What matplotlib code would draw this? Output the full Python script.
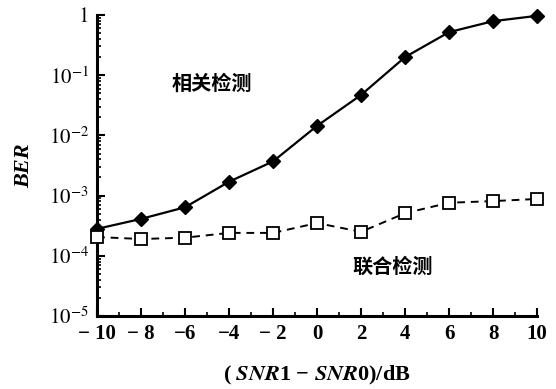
import numpy as np
import matplotlib
matplotlib.use('Agg')
import matplotlib.pyplot as plt
from matplotlib.ticker import FixedLocator, NullFormatter

plt.rcParams['font.family'] = ['Liberation Serif', 'Noto Sans CJK SC']
plt.rcParams['mathtext.fontset'] = 'stix'

snr_diff = [-10, -8, -6, -4, -2, 0, 2, 4, 6, 8, 10]
ber_corr = [2.8e-4, 4.1e-4, 6.4e-4, 1.7e-3, 3.7e-3, 1.44e-2, 4.7e-2, 0.20, 0.52, 0.79, 0.97]
ber_joint = [2.05e-4, 1.9e-4, 2.0e-4, 2.4e-4, 2.4e-4, 3.5e-4, 2.5e-4, 5.1e-4, 7.6e-4, 8.1e-4, 8.8e-4]

x_ticks = [-10, -8, -6, -4, -2, 0, 2, 4, 6, 8, 10]
x_ticklabels = ['− 10', '− 8', '−6', '−4', '− 2', '0', '2', '4', '6', '8', '10']
y_ticks = [1e-5, 1e-4, 1e-3, 1e-2, 1e-1, 1]
y_ticklabels = [r'$10^{-5}$', r'$10^{-4}$', r'$10^{-3}$', r'$10^{-2}$', r'$10^{-1}$', r'$1$']

fig = plt.figure(figsize=(5.56, 3.89), dpi=100)
ax = fig.add_axes([0.1745, 0.1877, 0.7915, 0.7737])

ax.plot(snr_diff, ber_corr, color='black', lw=1.6, marker='D', ms=7,
        mfc='black', mec='black', clip_on=False, zorder=3)
ax.plot(snr_diff, ber_joint, color='black', lw=1.4, ls=(0, (4, 3)), marker='s', ms=8.5,
        mfc='white', mec='black', mew=1.3, clip_on=False, zorder=4)

ax.set_yscale('log')
ax.set_xlim(-10, 10)
ax.set_ylim(1e-5, 1)

ax.spines['top'].set_visible(False)
ax.spines['right'].set_visible(False)
ax.spines['left'].set_linewidth(2.2)
ax.spines['bottom'].set_linewidth(2.2)

ax.set_xticks(x_ticks)
ax.set_xticklabels(x_ticklabels, fontsize=15, fontweight='bold')
ax.xaxis.set_minor_locator(FixedLocator(np.arange(-9, 10, 2)))
ax.set_yticks(y_ticks)
ax.set_yticklabels(y_ticklabels, fontsize=15)
ax.yaxis.set_minor_formatter(NullFormatter())
ax.tick_params(which='major', direction='in', length=6, width=1.5, pad=6)
ax.tick_params(which='minor', direction='in', length=3, width=1.2)

ax.set_ylabel('BER', fontsize=16, fontweight='bold', style='italic', labelpad=10)
ax.set_xlabel(r'( $\mathbfit{SNR}$1 − $\mathbfit{SNR}$0)/dB', fontsize=16,
              fontweight='bold', labelpad=14)

ax.text(-6.6, 0.074, '相关检测', fontsize=14.5, fontweight='bold',
        family=['Noto Sans CJK SC'], ha='left', va='center')
ax.text(1.6, 6.8e-5, '联合检测', fontsize=14.5, fontweight='bold',
        family=['Noto Sans CJK SC'], ha='left', va='center')

fig.savefig('out.png', dpi=100)
